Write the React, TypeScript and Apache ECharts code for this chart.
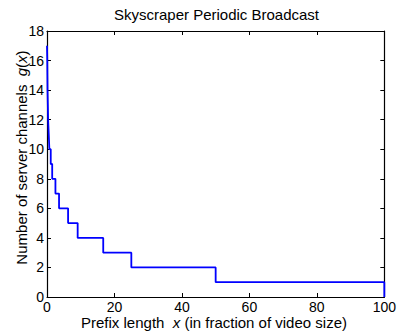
import React, { useEffect, useRef } from "react";
import * as echarts from "echarts";

const channels = [17, 16, 15, 14, 13, 12, 11, 10, 9, 8, 7, 6, 5, 4, 3, 2, 1];
const segmentEnds = [0.08, 0.12, 0.16, 0.25, 0.33, 0.52, 0.7, 1.11, 1.54, 2.5, 3.57, 6.25, 9.09, 16.67, 25, 50, 100];
const xTicks = [0, 20, 40, 60, 80, 100];
const yTicks = [0, 2, 4, 6, 8, 10, 12, 14, 16, 18];

const FONT = "Liberation Sans, Arial, Helvetica, sans-serif";
const FS = 14;
const LFS = 15;

export default function App() {
  const ref = useRef<HTMLDivElement>(null);
  useEffect(() => {
    if (!ref.current) return;
    const chart = echarts.init(ref.current, null, { renderer: "svg" });
    const pts: number[][] = [];
    let prev = 0;
    channels.forEach((g, i) => {
      pts.push([prev, g]);
      pts.push([segmentEnds[i], g]);
      prev = segmentEnds[i];
    });
    pts.push([xTicks[xTicks.length - 1], 0]);

    const axisCommon = {
      axisLine: { show: true, onZero: false, lineStyle: { color: "#000", width: 1.2 } },
      axisTick: { show: true, inside: true, length: 4, lineStyle: { color: "#000" } },
      splitLine: { show: false },
    };
    const rich = {
      n: { fontSize: LFS, fontFamily: FONT, color: "#000", lineHeight: 15 },
      i: { fontSize: LFS, fontFamily: FONT, fontStyle: "italic", color: "#000", lineHeight: 15 },
    };

    chart.setOption({
      animation: false,
      backgroundColor: "#fff",
      grid: { left: 47, right: 13, top: 31, bottom: 36 },
      graphic: [
        {
          type: "text",
          x: 216.5,
          y: 14,
          style: {
            text: "Skyscraper Periodic Broadcast",
            textAlign: "center",
            textVerticalAlign: "middle",
            font: `${LFS}px ${FONT}`,
            fill: "#000",
          },
        },
        {
          type: "text",
          x: 214,
          y: 322,
          style: {
            text: "{n|Prefix length  }{i|x}{n| (in fraction of video size)}",
            rich,
            textAlign: "center",
            textVerticalAlign: "middle",
          },
        },
        {
          type: "text",
          x: 21,
          y: 157.5,
          rotation: Math.PI / 2,
          style: {
            text: "{n|Number of server channels  }{i|g}{n|(}{i|x}{n|)}",
            rich,
            textAlign: "center",
            textVerticalAlign: "middle",
          },
        },
      ],
      xAxis: [
        {
          type: "value",
          min: xTicks[0],
          max: xTicks[xTicks.length - 1],
          interval: 20,
          position: "bottom",
          ...axisCommon,
          axisLabel: { color: "#000", fontSize: FS, fontFamily: FONT, margin: 3, lineHeight: 14 },
        },
        {
          type: "value",
          min: xTicks[0],
          max: xTicks[xTicks.length - 1],
          interval: 20,
          position: "top",
          ...axisCommon,
          axisLabel: { show: false },
        },
      ],
      yAxis: [
        {
          type: "value",
          min: yTicks[0],
          max: yTicks[yTicks.length - 1],
          interval: 2,
          position: "left",
          ...axisCommon,
          axisLabel: { color: "#000", fontSize: FS, fontFamily: FONT, margin: 3 },
        },
        {
          type: "value",
          min: yTicks[0],
          max: yTicks[yTicks.length - 1],
          interval: 2,
          position: "right",
          ...axisCommon,
          axisLabel: { show: false },
        },
      ],
      series: [
        {
          type: "line",
          data: pts,
          showSymbol: false,
          symbol: "none",
          lineStyle: { color: "#0000ff", width: 1.8 },
        },
      ],
    });
    return () => chart.dispose();
  }, []);
  return <div ref={ref} style={{ position: "fixed", left: 0, top: 0, width: 399, height: 333 }} />;
}
